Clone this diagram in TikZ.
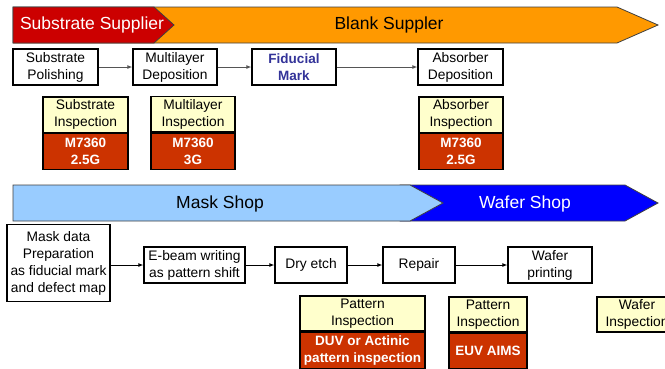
\documentclass[tikz,border=0pt]{standalone}
\usepackage{fontspec}
\setmainfont{Liberation Sans}
\usetikzlibrary{arrows.meta}
\definecolor{redban}{HTML}{CC0000}
\definecolor{orangeban}{HTML}{FF9900}
\definecolor{lblue}{HTML}{99CCFF}
\definecolor{dblue}{HTML}{0000FF}
\definecolor{insyel}{HTML}{FFFFCC}
\definecolor{insred}{HTML}{CC3300}
\definecolor{fidblue}{HTML}{333399}
\definecolor{bannerline}{HTML}{404040}
\definecolor{arrgray}{HTML}{555555}
\tikzset{
  banner/.style={draw=bannerline, line width=0.8pt},
  bantext/.style={font=\fontsize{17.5}{20}\selectfont, inner sep=0pt},
  box/.style={draw=black, line width=1.2pt, fill=white, inner sep=0pt, align=center,
    font=\fontsize{13.8}{17}\selectfont},
  insy/.style={box, fill=insyel},
  insr/.style={box, fill=insred, text=white, font=\fontsize{13.5}{17}\selectfont\bfseries},
  arrtop/.style={draw=arrgray, line width=1pt, -{Latex[length=5pt,width=4pt]}},
  arrbot/.style={draw=black, line width=1pt, -{Latex[length=5pt,width=4pt]}},
}
\begin{document}
\begin{tikzpicture}[x=1pt,y=-1pt]
\useasboundingbox (0,0) rectangle (665,368);
\clip (0,0) rectangle (665,368);
\fill[white] (0,0) rectangle (665,368);
% top banner
\draw[banner, fill=orangeban] (13,7) -- (617,7) -- (658,25) -- (617,43) -- (13,43) -- cycle;
\draw[banner, fill=redban] (13,7) -- (154,7) -- (174,25) -- (154,43) -- (13,43) -- cycle;
\node[bantext, text=white] (tsub) at (92,25) {Substrate Supplier};
\node[bantext] (tblank) at (389,25) {Blank Suppler};
% row 1
\node[box, minimum width=85pt, minimum height=36pt] (sp) at (55.5,67) {Substrate\\Polishing};
\node[box, minimum width=84pt, minimum height=36pt] (md) at (175,67) {Multilayer\\Deposition};
\node[box, minimum width=84pt, minimum height=36pt, text=fidblue, font=\fontsize{13.5}{17}\selectfont\bfseries] (fm) at (294,67) {Fiducial\\Mark};
\node[box, minimum width=85pt, minimum height=36pt] (ad) at (460.5,67) {Absorber\\Deposition};
\draw[arrtop] (sp.east) -- (md.west);
\draw[arrtop] (md.east) -- (fm.west);
\draw[arrtop] (fm.east) -- (ad.west);
% inspections row 1
\node[insy, minimum width=85pt, minimum height=35.5pt] (si) at (85.5,114.75) {Substrate\\Inspection};
\node[insr, minimum width=85pt, minimum height=36pt, anchor=north] (sir) at (si.south) {M7360\\2.5G};
\node[insy, minimum width=84pt, minimum height=35.5pt] (mi) at (193,114.25) {Multilayer\\Inspection};
\node[insr, minimum width=84pt, minimum height=36pt, anchor=north] (mir) at (mi.south) {M7360\\3G};
\node[insy, minimum width=84pt, minimum height=35.5pt] (ai) at (461,114.75) {Absorber\\Inspection};
\node[insr, minimum width=84pt, minimum height=36pt, anchor=north] (air) at (ai.south) {M7360\\2.5G};
% second banner
\draw[banner, fill=dblue] (400,185) -- (625,185) -- (658,203) -- (625,221) -- (400,221) -- cycle;
\draw[banner, fill=lblue] (13,185) -- (410,185) -- (443,203) -- (410,221) -- (13,221) -- cycle;
\node[bantext] (tmask) at (220,204) {Mask Shop};
\node[bantext, text=white] (twafer) at (525,204) {Wafer Shop};
% row 2
\node[box, minimum width=103pt, minimum height=77pt] (mdp) at (58.5,263) {Mask data\\Preparation\\as fiducial mark\\and defect map};
\node[box, minimum width=101pt, minimum height=36pt] (eb) at (194.5,265) {E-beam writing\\as pattern shift};
\node[box, minimum width=72pt, minimum height=36pt] (de) at (311,265) {Dry etch};
\node[box, minimum width=72pt, minimum height=36pt] (rp) at (419,265) {Repair};
\node[box, minimum width=84pt, minimum height=36pt] (wp) at (550,265) {Wafer\\printing};
\draw[arrbot] (mdp.east |- eb.west) -- (eb.west);
\draw[arrbot] (eb.east) -- (de.west);
\draw[arrbot] (de.east) -- (rp.west);
\draw[arrbot] (rp.east) -- (wp.west);
% inspections row 2
\node[insy, minimum width=125pt, minimum height=35pt] (pi1) at (362.5,313.5) {Pattern\\Inspection};
\node[insr, minimum width=125pt, minimum height=36pt, anchor=north] (pi1r) at (pi1.south) {DUV or Actinic\\pattern inspection};
\node[insy, minimum width=78pt, minimum height=35pt] (pi2) at (488,314.5) {Pattern\\Inspection};
\node[insr, minimum width=78pt, minimum height=35pt, anchor=north] (pi2r) at (pi2.south) {EUV AIMS};
\node[insy, minimum width=80pt, minimum height=35pt] (wi) at (637,314.5) {Wafer\\Inspection};
\end{tikzpicture}
\end{document}
